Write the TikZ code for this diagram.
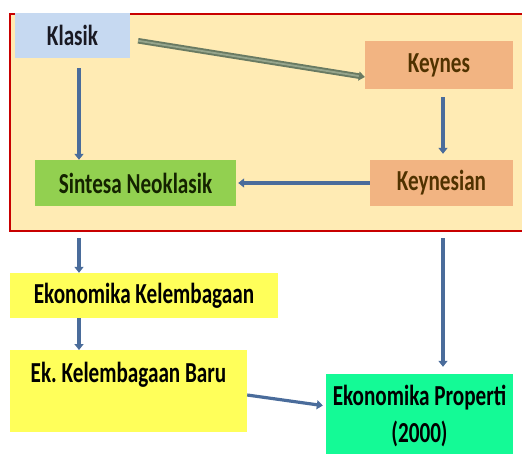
\documentclass[tikz,border=0pt]{standalone}
\usepackage{fontspec}
\setmainfont{Carlito}[FakeStretch=0.73]
\usetikzlibrary{arrows.meta}
\definecolor{framefill}{RGB}{255,235,180}
\definecolor{framered}{RGB}{200,0,0}
\definecolor{klasikfill}{RGB}{198,217,241}
\definecolor{keynesfill}{RGB}{242,180,130}
\definecolor{sintesafill}{RGB}{146,208,80}
\definecolor{ekfill}{RGB}{255,255,90}
\definecolor{propfill}{RGB}{20,250,150}
\definecolor{arrblue}{RGB}{74,108,155}
\definecolor{arrgreen}{RGB}{105,122,98}
\definecolor{arrgreenlight}{RGB}{150,165,140}
\definecolor{browntext}{RGB}{80,50,0}
\definecolor{darktext}{RGB}{25,25,35}
\definecolor{greentext}{RGB}{20,35,0}
\tikzset{
  boxstyle/.style={rectangle, inner sep=0pt, font=\fontsize{29}{37}\selectfont\bfseries\frenchspacing, align=center},
  arr/.style={draw=arrblue, line width=3.2pt, -{Triangle[width=9pt,length=6pt]}},
  dblarr/.style={draw=arrgreen, double=arrgreenlight, double distance=1.8pt, line width=1.9pt, -{Triangle[width=9pt,length=6pt]}}
}
\begin{document}
\begin{tikzpicture}[x=1pt,y=-1pt]
\useasboundingbox (0,0) rectangle (522,453);
\node[rectangle, draw=framered, line width=2.2pt, fill=framefill, minimum width=530pt, minimum height=217pt, anchor=north west, inner sep=0pt] (frame) at (9,13) {};
\node[boxstyle, fill=klasikfill, text=darktext, minimum width=115pt, minimum height=45pt] (klasik) at (72.5,35.5) {Klasik};
\node[boxstyle, fill=keynesfill, text=browntext, minimum width=148pt, minimum height=48pt] (keynes) at (439,65) {Keynes};
\node[boxstyle, fill=sintesafill, text=greentext, minimum width=201pt, minimum height=46pt] (sintesa) at (135.5,183) {Sintesa Neoklasik};
\node[boxstyle, fill=keynesfill, text=browntext, minimum width=143pt, minimum height=46pt] (keynesian) at (441.5,183) {Keynesian};
\node[boxstyle, fill=ekfill, text=black, minimum width=268pt, minimum height=45pt] (ekk) at (144,295.5) {Ekonomika Kelembagaan};
\node[boxstyle, fill=ekfill, text=black, minimum width=237pt, text height=32pt, text depth=50pt, anchor=north] (ekb) at (128.5,350) {Ek. Kelembagaan Baru};
\node[boxstyle, fill=propfill, text=black, minimum width=187pt, minimum height=84pt] (prop) at (419.5,416) {Ekonomika Properti\\(2000)};
% connectors
\draw[dblarr, shorten <=8pt] ([yshift=-4pt]klasik.east) -- ([yshift=-12pt]keynes.west);
\draw[arr, shorten <=10pt] ([xshift=6.5pt]klasik.south) -- ([xshift=6.5pt]klasik.south |- sintesa.north);
\draw[arr, shorten <=8pt, shorten >=6pt] ([xshift=4pt]keynes.south) -- ([xshift=4pt]keynes.south |- keynesian.north);
\draw[arr, shorten >=2pt] (keynesian.west) -- (sintesa.east);
\draw[arr, shorten <=6pt] (frame.south -| klasik.south) ++(6.5,0) coordinate (fa) (fa) -- (fa |- ekk.north);
\draw[arr] ([xshift=-65pt]ekk.south) -- ([xshift=-65pt]ekk.south |- ekb.north);
\draw[arr, shorten <=6pt, shorten >=7pt] (frame.south -| keynes.south) ++(4,0) coordinate (fb) (fb) -- (fb |- prop.north);
\draw[arr, shorten >=3pt] ([yshift=-4pt]ekb.east |- 0,391) -- ([yshift=10pt]prop.west);
\end{tikzpicture}
\end{document}
